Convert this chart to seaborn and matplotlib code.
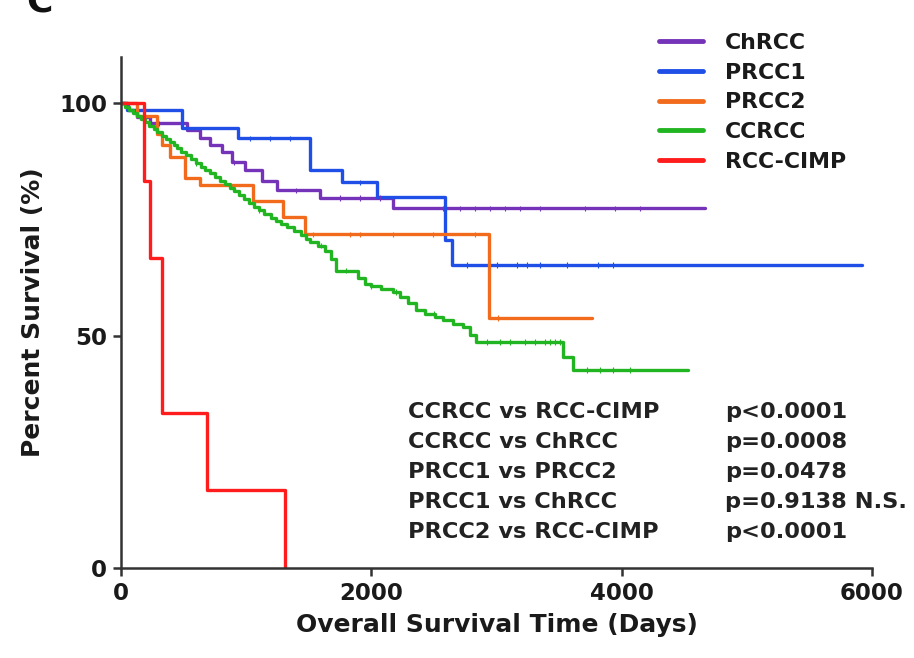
# Kaplan-Meier style survival curves for the RCC subtypes

import numpy as np
import pandas as pd
import matplotlib
matplotlib.use("Agg")
import matplotlib.pyplot as plt
import seaborn as sns

# step points (days, percent survival)
chrcc_t = [0, 56, 128, 232, 527, 631, 711, 807, 887, 991, 1127, 1246, 1590, 2173, 4666]
chrcc_s = [100, 98.5, 97.0, 95.7, 94.2, 92.5, 91.0, 89.5, 87.3, 85.6, 83.4, 81.3, 79.6, 77.4, 77.4]

prcc1_t = [0, 50, 490, 935, 1510, 1766, 2045, 2590, 2645, 5920]
prcc1_s = [100, 98.6, 94.8, 92.5, 85.6, 83.0, 79.8, 70.5, 65.2, 65.2]

prcc2_t = [0, 130, 290, 330, 390, 510, 630, 1055, 1295, 1470, 2940, 3763]
prcc2_s = [100, 97.4, 93.5, 91.0, 88.4, 84.0, 82.4, 79.1, 75.5, 71.8, 53.8, 53.8]

ccrcc_t = [0, 30, 60, 95, 130, 160, 190, 225, 260, 290, 330, 360, 390, 420, 450, 480,
           520, 560, 600, 640, 670, 710, 750, 790, 830, 870, 900, 940, 980, 1020, 1060,
           1100, 1140, 1200, 1240, 1280, 1330, 1380, 1440, 1480, 1510, 1570, 1630,
           1680, 1720, 1890, 1950, 2000, 2080, 2170, 2230, 2290, 2360, 2430, 2510,
           2570, 2650, 2730, 2790, 2840, 3530, 3610, 4530]
ccrcc_s = [100, 99.3, 98.6, 97.9, 97.2, 96.6, 95.9, 95.2, 94.5, 93.8, 93.0, 92.3, 91.7,
           91.0, 90.3, 89.6, 88.8, 88.0, 87.2, 86.4, 85.7, 85.0, 84.2, 83.4, 82.6, 81.8,
           81.1, 80.3, 79.5, 78.6, 77.8, 77.0, 76.2, 75.3, 74.7, 74.0, 73.3, 72.5, 71.6,
           70.8, 70.1, 69.4, 68.2, 66.5, 64.0, 62.5, 61.2, 60.7, 60.0, 59.4, 58.3, 57.0,
           55.6, 54.7, 54.0, 53.3, 52.5, 51.8, 50.2, 48.6, 45.4, 42.6, 42.6]

cimp_t = [0, 180, 232, 328, 687, 1310]
cimp_s = [100, 83.3, 66.7, 33.3, 16.7, 0]

# censored observations (days)
chrcc_c = [300, 900, 1400, 1750, 1910, 2069, 2573, 2709, 2829, 2948, 3068, 3188, 3348, 3707, 3947, 4147]
prcc1_c = [1031, 1191, 1350, 1910, 2765, 3004, 3164, 3244, 3348, 3564, 3811, 3931]
prcc2_c = [1534, 1830, 1910, 2173, 2493, 2829, 3012]
ccrcc_c = [600, 1100, 1600, 1800, 2000, 2200, 2500, 2924, 3028, 3108, 3228, 3308, 3388,
           3428, 3468, 3508, 3723, 3827, 3931, 4067]

groups = ["ChRCC", "PRCC1", "PRCC2", "CCRCC", "RCC-CIMP"]
colors = ["#7433b8", "#1f4fe6", "#f26b1d", "#22b522", "#ff1c1c"]

comparisons = ["CCRCC vs RCC-CIMP", "CCRCC vs ChRCC", "PRCC1 vs PRCC2",
               "PRCC1 vs ChRCC", "PRCC2 vs RCC-CIMP"]
pvalues = ["p<0.0001", "p=0.0008", "p=0.0478", "p=0.9138 N.S.", "p<0.0001"]

steps = {"ChRCC": (chrcc_t, chrcc_s), "PRCC1": (prcc1_t, prcc1_s),
         "PRCC2": (prcc2_t, prcc2_s), "CCRCC": (ccrcc_t, ccrcc_s),
         "RCC-CIMP": (cimp_t, cimp_s)}
censored = {"ChRCC": chrcc_c, "PRCC1": prcc1_c, "PRCC2": prcc2_c, "CCRCC": ccrcc_c}

rows = []
for g, (t, s) in steps.items():
    for ti, si in zip(t, s):
        rows.append({"time": ti, "surv": si, "group": g})
df = pd.DataFrame(rows)

crows = []
for g, ct in censored.items():
    t, s = steps[g]
    idx = np.searchsorted(t, ct, side="right") - 1
    for ti, i in zip(ct, idx):
        crows.append({"time": ti, "surv": s[i], "group": g})
cdf = pd.DataFrame(crows)

sns.set_theme(style="ticks")
plt.rcParams["font.family"] = ["DejaVu Sans"]

fig = plt.figure(figsize=(9.14, 6.58), dpi=100)
ax = fig.add_axes([0.1324, 0.1368, 0.8216, 0.7766])

pal = dict(zip(groups, colors))
sns.lineplot(data=df, x="time", y="surv", hue="group", hue_order=groups, palette=pal,
             drawstyle="steps-post", estimator=None, sort=True, linewidth=2.4, ax=ax)
sns.scatterplot(data=cdf, x="time", y="surv", hue="group", hue_order=groups, palette=pal,
                marker="|", s=16, linewidth=0.8, legend=False, ax=ax, zorder=3)

ax.set_xlim(0, 6000)
ax.set_ylim(0, 110)
ax.set_xticks([0, 2000, 4000, 6000])
ax.set_yticks([0, 50, 100])
sns.despine(ax=ax)
for sp in ["left", "bottom"]:
    ax.spines[sp].set_color("#333333")
    ax.spines[sp].set_linewidth(1.8)
ax.tick_params(axis="both", length=6, width=1.8, color="#333333",
               labelsize=16.5, labelcolor="#1a1a1a", pad=4)
for lab in ax.get_xticklabels() + ax.get_yticklabels():
    lab.set_fontweight("bold")

ax.set_xlabel("Overall Survival Time (Days)", fontsize=18, fontweight="bold",
              color="#1a1a1a", labelpad=6)
ax.set_ylabel("Percent Survival (%)", fontsize=18, fontweight="bold",
              color="#1a1a1a", labelpad=10)

sns.move_legend(ax, "upper left", bbox_to_anchor=(659 / 914, 1 - 33 / 658),
                bbox_transform=fig.transFigure, frameon=False, title=None,
                fontsize=15.8, handlelength=2.0, handletextpad=1.0,
                labelspacing=0.44, borderaxespad=0, borderpad=0)
for txt in ax.get_legend().get_texts():
    txt.set_fontweight("bold")
    txt.set_color("#1a1a1a")
for line in ax.get_legend().get_lines():
    line.set_linewidth(3.5)

for i, (c, p) in enumerate(zip(comparisons, pvalues)):
    y = 1 - (412 + 30 * i) / 658
    fig.text(408 / 914, y, c, fontsize=16.2, fontweight="bold", color="#222222", va="center")
    fig.text(725 / 914, y, p, fontsize=16.2, fontweight="bold", color="#222222", va="center")

# panel letter cut off at the top edge
fig.text(26 / 914, 1 - 12 / 658, "C", fontsize=26, fontweight="bold", color="#111111")

fig.savefig("out.png", dpi=100)
